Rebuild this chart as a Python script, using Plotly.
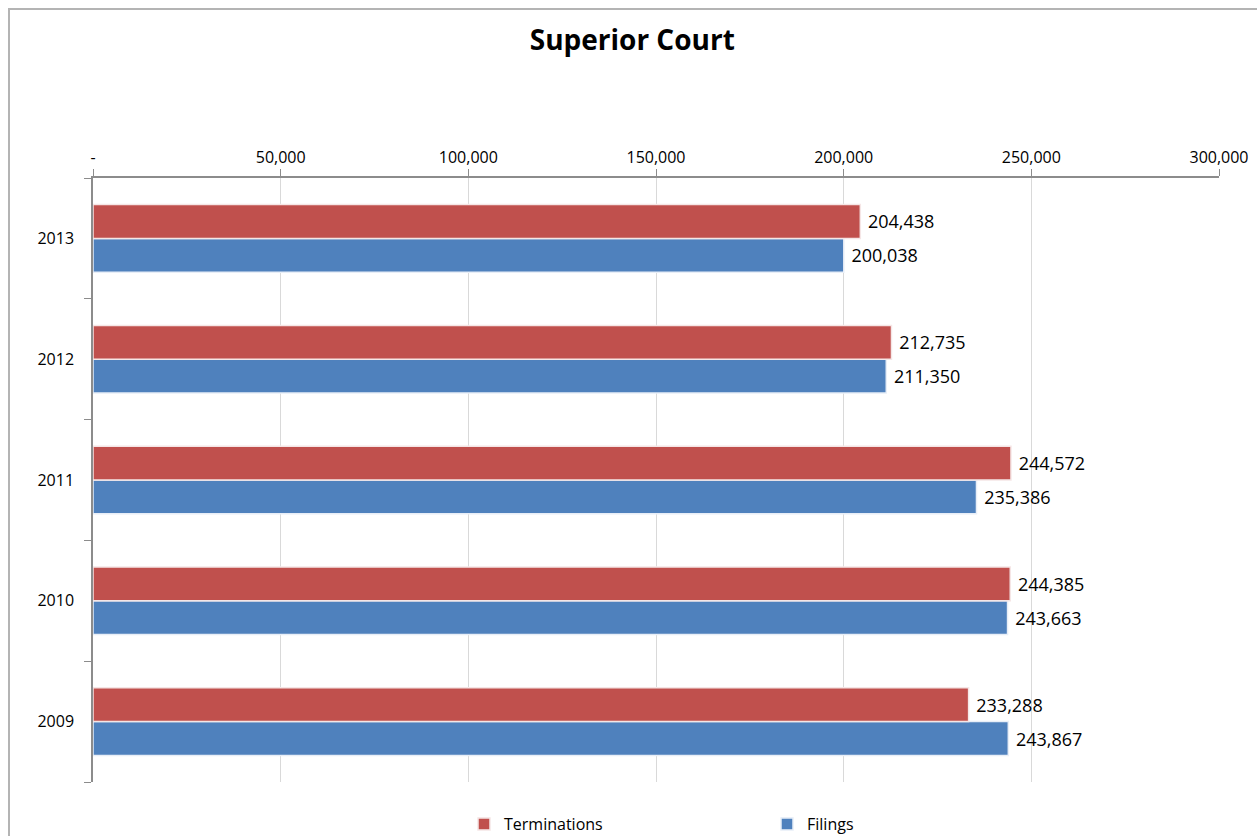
import plotly.graph_objects as go

years = ["2009", "2010", "2011", "2012", "2013"]
filings = [243867, 243663, 235386, 211350, 200038]
terminations = [233288, 244385, 244572, 212735, 204438]
tick_vals = [0, 50000, 100000, 150000, 200000, 250000, 300000]
tick_text = ["-", "50,000", "100,000", "150,000", "200,000", "250,000", "300,000"]

font_family = "Open Sans, Liberation Sans, sans-serif"

fig = go.Figure()
fig.add_trace(go.Bar(
    y=years, x=filings, name="Filings", orientation="h",
    marker=dict(color="#4F81BD", line=dict(color="#E8EEF7", width=1.5)),
    texttemplate="\u00a0%{x:,}", textposition="outside", cliponaxis=False,
    textfont=dict(size=18, color="#000000", family=font_family),
))
fig.add_trace(go.Bar(
    y=years, x=terminations, name="Terminations", orientation="h",
    marker=dict(color="#C0504D", line=dict(color="#F5E6E6", width=1.5)),
    texttemplate="\u00a0%{x:,}", textposition="outside", cliponaxis=False,
    textfont=dict(size=18, color="#000000", family=font_family),
))

plot_w = 1219 - 93
plot_h = 782 - 178

fig.update_layout(
    width=1257, height=836, autosize=False,
    margin=dict(l=93, r=38, t=178, b=54),
    paper_bgcolor="white", plot_bgcolor="white",
    barmode="group", bargap=0.44, bargroupgap=0,
    font=dict(family=font_family, size=16, color="#000000"),
    title=dict(text="<b>Superior Court</b>", x=0.503, xanchor="center",
               y=1 - 40 / 836, yanchor="middle",
               font=dict(size=28, family=font_family, color="#000000")),
    showlegend=True,
    legend=dict(orientation="h", traceorder="reversed",
                xref="container", yref="container",
                x=464 / 1257, xanchor="left",
                y=1 - 824 / 836, yanchor="middle",
                entrywidth=258, entrywidthmode="pixels",
                itemwidth=30,
                font=dict(size=16, family=font_family)),
    xaxis=dict(side="top", range=[0, 300000], tickvals=tick_vals, ticktext=tick_text,
               showgrid=True, gridcolor="#D9D9D9", gridwidth=1,
               showline=True, linecolor="#8C8C8C", linewidth=1.5,
               ticks="outside", ticklen=7, tickcolor="#8C8C8C",
               tickfont=dict(size=16), zeroline=False, automargin=False),
    yaxis=dict(type="category", categoryorder="array", categoryarray=years,
               showline=True, linecolor="#8C8C8C", linewidth=1.5,
               ticks="outside", ticklen=7, tickcolor="#8C8C8C", tickson="boundaries",
               tickfont=dict(size=16), showgrid=False, ticklabelstandoff=14,
               automargin=False),
)

# chart border
fig.add_shape(type="rect", xref="paper", yref="paper",
              x0=(9 - 93) / plot_w, x1=(1300 - 93) / plot_w,
              y0=(782 - 900) / plot_h, y1=(782 - 9) / plot_h,
              line=dict(color="#B4B4B4", width=2), fillcolor="rgba(0,0,0,0)",
              layer="below")

post = ("document.body.style.margin='0';document.body.style.padding='0';"
        "document.body.style.overflow='hidden';")

fig.write_html("out.html", post_script=post,
               config={"responsive": False, "displayModeBar": False})
